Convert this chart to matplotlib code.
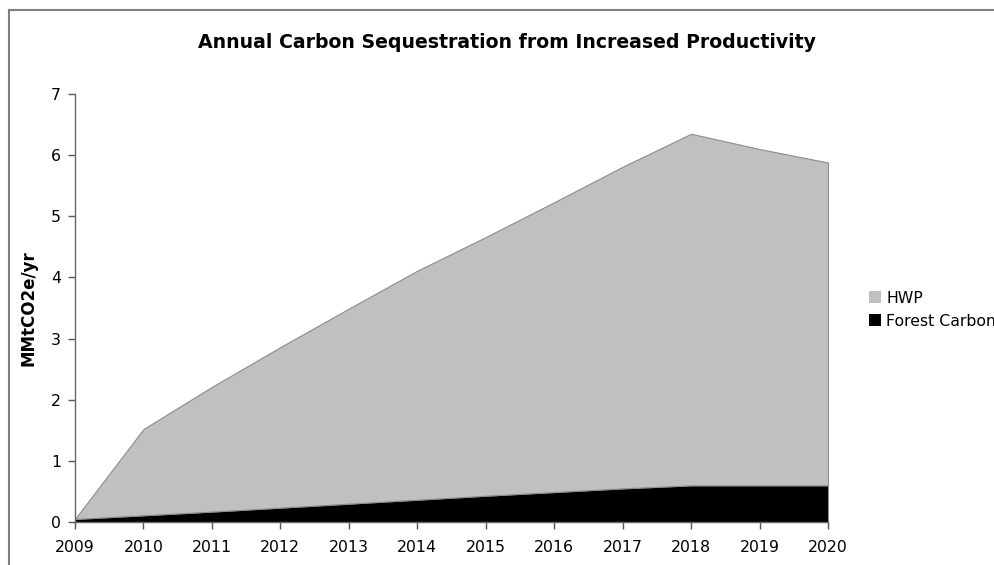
import matplotlib
matplotlib.use("Agg")
import matplotlib.pyplot as plt
from matplotlib.lines import Line2D
from matplotlib.patches import Patch

plt.rcParams["font.family"] = ["DejaVu Sans"]

# ── Data ─────────────────────────────────────────────────────
years = [2009, 2010, 2011, 2012, 2013, 2014, 2015, 2016, 2017, 2018, 2019, 2020]
forest_carbon = [0.05, 0.11, 0.17, 0.235, 0.30, 0.365, 0.43, 0.49, 0.55, 0.60, 0.60, 0.60]
hwp = [0.0, 1.41, 2.04, 2.625, 3.19, 3.745, 4.23, 4.74, 5.26, 5.75, 5.50, 5.28]
series_names = ["Forest Carbon", "HWP"]

# ── Figure ───────────────────────────────────────────────────
fig = plt.figure(figsize=(9.95, 5.65), dpi=100)
ax = fig.add_axes([75 / 995, 1 - 522 / 565, (828 - 75) / 995, (522 - 94) / 565])

ax.stackplot(years, forest_carbon, hwp,
             colors=["black", "#c0c0c0"],
             edgecolor="#8c8c8c", linewidth=0.8)

ax.set_xlim(2009, 2020)
ax.set_ylim(0, 7)
ax.set_xticks(years)
ax.set_yticks(range(0, 8))
ax.tick_params(direction="out", length=5, width=1, color="#555555",
               labelsize=11.3)
ax.tick_params(axis="x", pad=8)
ax.tick_params(axis="y", pad=5)
for s in ["top", "right"]:
    ax.spines[s].set_visible(False)
for s in ["left", "bottom"]:
    ax.spines[s].set_color("#666666")
    ax.spines[s].set_linewidth(1.0)

ax.set_ylabel("MMtCO2e/yr", fontsize=12, fontweight="bold", labelpad=10)
fig.text(507 / 995, 1 - 43 / 565, "Annual Carbon Sequestration from Increased Productivity",
         ha="center", va="center", fontsize=13.6, fontweight="bold")

# legend (HWP on top, as in the original; the long label runs off the edge there too)
handles = [Patch(facecolor="#c0c0c0", edgecolor="none"),
           Patch(facecolor="black", edgecolor="none")]
fig.legend(handles, ["HWP", "Forest Carbon"], loc="upper left",
           bbox_to_anchor=(861 / 995, 1 - 283 / 565), frameon=False,
           fontsize=11.3, handlelength=0.8, handleheight=0.8,
           handletextpad=0.3, labelspacing=0.5, borderpad=0)

# outer chart border (only top and left edges are visible in the crop)
fig.add_artist(Line2D([9 / 995, 9 / 995], [0, 1 - 10 / 565],
                      transform=fig.transFigure, color="#7f7f7f", linewidth=1.5))
fig.add_artist(Line2D([9 / 995, 1], [1 - 10 / 565, 1 - 10 / 565],
                      transform=fig.transFigure, color="#7f7f7f", linewidth=1.5))

fig.savefig("out.png", dpi=100)
